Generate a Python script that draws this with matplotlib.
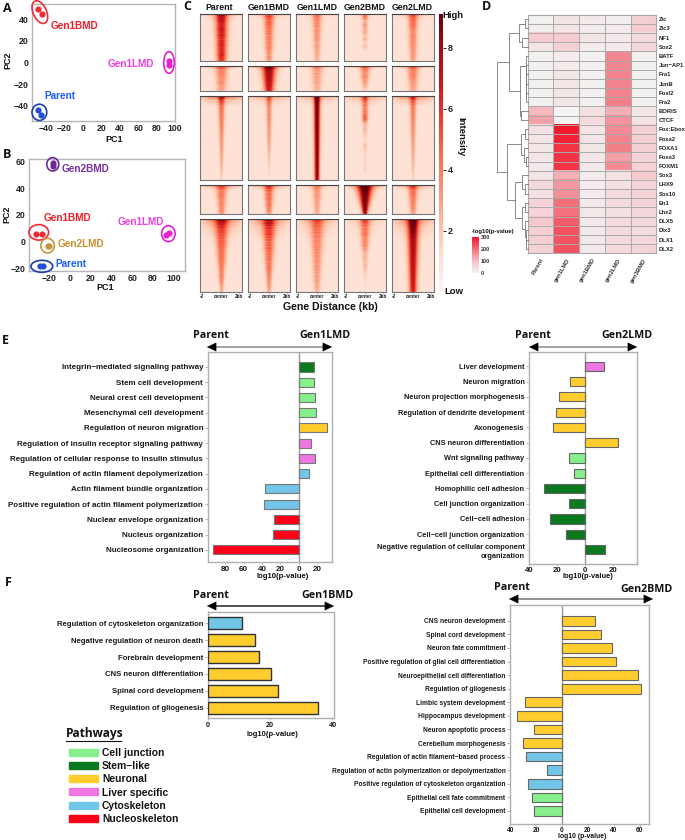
import numpy as np
import matplotlib
matplotlib.use("Agg")
import matplotlib.pyplot as plt
from matplotlib.patches import Ellipse, Patch
from matplotlib.colors import LinearSegmentedColormap

W, H = 685, 840
plt.rcParams['font.family'] = ['Liberation Sans', 'DejaVu Sans']
plt.rcParams['font.weight'] = 'bold'
plt.rcParams['axes.labelweight'] = 'bold'

# ---------- pathway colours ----------
C_JUNC, C_STEM, C_NEUR, C_LIVER, C_CYTO, C_NUC = '#86ee8a', '#0b7a1e', '#ffcd2e', '#ee76e0', '#72c6e8', '#ff0018'
PATHWAYS = ['Cell junction', 'Stem\u2212like', 'Neuronal', 'Liver specific', 'Cytoskeleton', 'Nucleoskeleton']
PATHWAY_COLORS = [C_JUNC, C_STEM, C_NEUR, C_LIVER, C_CYTO, C_NUC]

# ---------- PCA ----------
A_PARENT = ([-48, -45.5], [-44, -48])
A_G1B = ([-49, -44], [49, 45])
A_G1L = ([93, 94], [1, -2])
B_PARENT = ([-29, -25.5], [-18.5, -18.5])
B_G1B = ([-33, -27], [6, 6])
B_G1L = ([93, 96], [5, 6.5])
B_G2B = ([-16.5, -16.5], [59, 57])
B_G2L = ([-21.5, -20], [-3, -3])

# ---------- ATAC heat blocks: centre intensity sampled top to bottom ----------
COLUMNS_C = ['Parent', 'Gen1BMD', 'Gen1LMD', 'Gen2BMD', 'Gen2LMD']
PEAKS = [
 [[6.5,6,6.2,5.5,6,5.6,5.8,5.2,5.6,5.5,5.2,5.6,5.3,5],
  [4.5,4,3.6,3.8,3.2,3.4,3,3.2,2.8,3,2.8,2.4,2.6,2],
  [3.2,3,2.6,2.8,2.4,2.5,2.2,2.4,2,2.2,2,1.8,1.6,1.4],
  [3.5,3,1.2,2.4,1.6,2,1,1.5,.6,1.4,.3,.1,0,0],
  [4.2,3.6,3.4,3.5,3,2.6,3,2.6,2.7,2.4,2.4,2.2,2.4,1.8]],
 [[3.5,3.2,2.8,3,2.6,2.4,2.6,2.2,2,1.8],
  [8,7.5,7,7,6.8,6.6,6.4,6.4,6,6],
  [2.6,2.4,2,2.2,2,1.8,2,1.6,1.6,1.4],
  [4,3.2,2.6,2.4,2.8,2,2.2,1.6,1.2,.6],
  [3.6,3.2,2.8,3,2.8,2.4,2.4,2.2,2,1.8]],
 [[5,3.8,3.4,3.2,3.1,3,2.8,2.6,2.4,2.4,2.2,2,1.8,1.5,1.2,.8],
  [3.6,3,2.8,2.6,2.8,2.6,2.3,2.4,2.2,2,1.6,1.2,1,.6,.4,.1],
  [8.6,8.4,8.4,8.3,8.3,8.2,8.2,8.1,8.1,8,8,7.9,7.9,7.8,7.8,7.6],
  [4.5,3.2,3,3.4,4.2,1.4,1.4,.8,.4,1.4,.6,.6,.6,.8,.1,0],
  [3.8,3.4,3.2,3,2.8,2.8,2.6,2.4,2.3,2.2,2,1.8,1.6,1.4,1,.6]],
 [[4,3.4,3,3.2,3,2.8,3,2.6,2.8,2.2],
  [4.8,4,3.6,3.4,3.6,3,3.4,3,2.8,2.2],
  [2.8,2.6,2.2,2.4,2.2,2,2,1.8,1.8,1.4],
  [8.8,8.6,8.4,8.2,8,8,7.8,7.8,7.6,7.4],
  [4.5,3.8,3.4,3.4,3,3,2.8,2.8,2.4,2]],
 [[5.2,4.6,4.2,4,3.8,4,3.6,3.4,3.6,3.2,3.2,2.8,3,2.6,2.2,1.8],
  [5.4,4.8,4.2,4.4,4,3.8,3.8,3.4,3.4,3.2,3.4,3,2.8,2.6,2.4,1.8],
  [3.6,3.2,3,3,2.8,2.8,2.6,2.6,2.5,2.4,2.4,2.2,2.2,2,1.8,1.4],
  [4.6,3.4,3,3.2,2.6,2.8,2.4,1.4,1.6,1.2,1.4,.7,.6,.3,.3,.1],
  [8,7.6,7.4,7.2,7.1,7,6.8,6.7,6.6,6.5,6.4,6.3,6.2,6.1,6,5.8]],
]
PEAK_WIDTH = [
 [(.24,.18),(.2,.13),(.18,.12),(.12,.08),(.19,.13)],
 [(.24,.18),(.27,.18),(.22,.16),(.2,.1),(.22,.16)],
 [(.13,.04),(.11,.03),(.12,.09),(.13,.04),(.13,.04)],
 [(.22,.12),(.2,.11),(.18,.12),(.32,.09),(.2,.11)],
 [(.28,.06),(.27,.07),(.27,.11),(.2,.04),(.22,.14)],
]
TOP_BAND = [[1.6,1.4,.8,.2,1.4],[3.4,4.5,1.6,3,3],[4.5,2.6,2.6,2.6,4],[3,3,1.4,2.6,3],[3,2.8,1.8,1,3]]
BAND_DEPTH = [.06, .05, .05, .08, .12]
PROFILE_X = [0, .5, 1, 1.3, 1.7, 2.2, 3]
PROFILE_Y = [1, .9, .5, .3, .12, .04, 0]
FLANK_X = [0, .55, .8, 1]
FLANK_Y = [1, .85, .55, .35]
BASE_LEVEL = 1.0
# eye-estimated row-to-row streakiness of the read pile-ups
STREAK = [1, .9, 1.05, .8, 1, .72, 1.08, .95, .65, 1, 1.1, .82, .95, .6, 1.05, .9, 1, .75, 1.1, .88, .7, 1, .94, 1.06, .78, 1, .86, 1.04, .68, .96]
STREAK_AMOUNT = [.35, .8, .8, .9, .35]   # mostly visible in non-dominant tracks

# ---------- motif heatmap ----------
MOTIFS = ['Zic','Zic3','NF1','Sox2','BATF','Jun\u2212AP1','Fra1','JunB','Fosl2','Fra2','BORIS','CTCF','Fox:Ebox',
          'Foxa2','FOXA1','Foxa3','FOXM1','Sox3','LHX9','Sox10','En1','Lhx2','DLX5','Dlx3','DLX1','DLX2']
SAMPLES = ['Parent','gen1LMD','gen1BMD','gen2LMD','gen3BMD']
MOTIF_P = [[5,30,15,10,70],[10,30,15,15,75],[80,75,25,20,50],[30,70,15,20,55],[5,15,5,170,5],[5,15,5,170,5],
           [5,25,5,175,5],[5,25,5,175,5],[5,25,5,175,5],[5,25,5,180,5],[110,0,40,120,25],[140,0,50,155,30],
           [40,295,30,165,70],[30,285,30,175,70],[25,265,25,180,70],[30,265,25,140,60],[20,265,20,165,65],
           [30,120,15,35,85],[50,150,15,40,60],[35,160,15,45,65],[65,200,20,45,60],[60,195,20,40,55],
           [85,220,20,45,55],[70,230,20,45,45],[70,230,20,45,55],[65,230,20,50,60]]
DEND = (1.0,
        (.6, (.285, (.09, 0, 1), (.18, 2, 3)),
             (.25, (.07, 4, (.06, 5, (.05, (.04, 6, 7), (.04, 8, 9)))), (.22, 10, 11))),
        (.69, (.23, (.1, 12, 13), (.13, 14, (.07, 15, 16))),
              (.42, (.2, 17, (.1, 18, 19)),
                    (.2, (.08, 20, 21), (.1, 22, (.07, 23, (.05, 24, 25)))))))

# ---------- enrichment bars ----------
E1_TERMS = ['Integrin\u2212mediated signaling pathway','Stem cell development','Neural crest cell development',
            'Mesenchymal cell development','Regulation of neuron migration','Regulation of insulin receptor signaling pathway',
            'Regulation of cellular response to insulin stimulus','Regulation of actin filament depolymerization',
            'Actin filament bundle organization','Positive regulation of actin filament polymerization',
            'Nuclear envelope organization','Nucleus organization','Nucleosome organization']
E1_VALS = [17, 17, 18, 19.5, 30.5, 14, 17.5, 11, -37, -38, -27, -28, -94]
E1_COLS = [C_STEM, C_JUNC, C_JUNC, C_JUNC, C_NEUR, C_LIVER, C_LIVER, C_CYTO, C_CYTO, C_CYTO, C_NUC, C_NUC, C_NUC]
E2_TERMS = ['Liver development','Neuron migration','Neuron projection morphogenesis','Regulation of dendrite development',
            'Axonogenesis','CNS neuron differentiation','Wnt signaling pathway','Epithelial cell differentiation',
            'Homophilic cell adhesion','Cell junction organization','Cell\u2212cell adhesion','Cell\u2212cell junction organization',
            'Negative regulation of cellular component\norganization']
E2_VALS = [13.5, -11, -18.5, -21, -23, 23, -12, -8, -29.5, -11.5, -25.5, -14, 14]
E2_COLS = [C_LIVER] + [C_NEUR]*5 + [C_JUNC]*2 + [C_STEM]*5
F1_TERMS = ['Regulation of cytoskeleton organization','Negative regulation of neuron death','Forebrain development',
            'CNS neuron differentiation','Spinal cord development','Regulation of gliogenesis']
F1_VALS = [11, 15, 16.3, 20.3, 22.5, 35.5]
F1_COLS = [C_CYTO] + [C_NEUR]*5
F2_TERMS = ['CNS neuron development','Spinal cord development','Neuron fate commitment',
            'Positive regulation of glial cell differentiation','Neuroepithelial cell differentiation','Regulation of gliogenesis',
            'Limbic system development','Hippocampus development','Neuron apoptotic process','Cerebellum morphogenesis',
            'Regulation of actin filament\u2212based process','Regulation of actin polymerization or depolymerization',
            'Positive regulation of cytoskeleton organization','Epithelial cell fate commitment','Epithelial cell development']
F2_VALS = [25.5, 30, 39, 41.5, 58.5, 61, -28.5, -35, -21.5, -30, -28, -12, -26, -23.5, -21.5]
F2_COLS = [C_NEUR]*10 + [C_CYTO]*3 + [C_JUNC]*2

fig = plt.figure(figsize=(W/100, H/100), dpi=100, facecolor='white')

def axpx(l, t, r, b, **kw):
    return fig.add_axes([l/W, 1-b/H, (r-l)/W, (b-t)/H], **kw)

ov = fig.add_axes([0, 0, 1, 1], zorder=20)
ov.set_xlim(0, W); ov.set_ylim(H, 0); ov.axis('off'); ov.patch.set_alpha(0)

def tx(x, y, s, size=6, color='#111111', ha='center', va='center', family=None, **kw):
    d = dict(fontsize=size, color=color, ha=ha, va=va, fontweight=kw.pop('weight', 'bold'))
    if family: d['family'] = family
    d.update(kw)
    ov.text(x, y, s, **d)

for s, x, y in [('A',7,8),('B',7,155),('C',187,7),('D',487,6.5),('E',5,340),('F',8,582)]:
    tx(x, y, s, size=9, family='Open Sans')

# ---------- PCA panels ----------
def pca(rect, xlim, ylim, xt, yt, groups, ell, xl, yl):
    ax = axpx(*rect)
    ax.set_xlim(*xlim); ax.set_ylim(*ylim)
    ax.set_xticks(xt); ax.set_yticks(yt)
    ax.tick_params(labelsize=6.3, length=0, pad=2.5, colors='#222222')
    for s in ax.spines.values():
        s.set_color('#b5b5b5'); s.set_linewidth(1)
    for (px, py), c in groups:
        ax.scatter(px, py, s=20, color=c, linewidths=0, zorder=3)
    for (cx, cy, w, h, ang, c) in ell:
        ax.add_patch(Ellipse((cx, cy), w, h, angle=ang, fill=False, ec=c, lw=1.2, zorder=4, clip_on=False))
    tx(xl[0], xl[1], 'PC1', size=6.5)
    tx(yl[0], yl[1], 'PC2', size=6.5, rotation=90)
    return ax

RED, MAG, BLUE, PUR, GOLD = '#f02a35', '#e81fd0', '#1f4fd8', '#6d2a96', '#c8963a'
pca((32, 4, 175, 121), (-55, 99), (-54, 54), range(-40, 101, 20), range(-40, 41, 20),
    [(A_G1B, RED), (A_G1L, MAG), (A_PARENT, BLUE)],
    [(-46.5, 46.5, 14, 23, 32, RED), (93.5, 0, 11.5, 20, 0, MAG), (-47, -46, 16, 15, 0, '#1a3fa8')],
    (114, 139), (8, 60))
tx(74, 26, 'Gen1BMD', size=7.2, color='#f01c28')
tx(131, 64, 'Gen1LMD', size=7.2, color='#f23de0')
tx(60, 96, 'Parent', size=7.2, color='#1a5cff')

pca((29, 159, 185, 271), (-39.4, 111), (-22, 62), range(-20, 101, 20), range(-20, 61, 20),
    [(B_G2B, PUR), (B_G1B, RED), (B_G2L, GOLD), (B_PARENT, BLUE), (B_G1L, MAG)],
    [(-16.5, 58, 11.6, 10, 0, PUR), (-30, 7, 19, 11.6, 0, RED), (-21.5, -3, 13, 11, 0, GOLD),
     (-27, -18.5, 21, 9, 0, '#1a3fa8'), (95, 6, 13, 12, 0, MAG)],
    (105, 287), (7, 214))
tx(86, 169, 'Gen2BMD', size=7.2, color='#7a2ea8')
tx(67, 218, 'Gen1BMD', size=7.2, color='#f01c28')
tx(141, 222, 'Gen1LMD', size=7.2, color='#f23de0')
tx(81, 244, 'Gen2LMD', size=7.2, color='#c8912e')
tx(71, 264, 'Parent', size=7.2, color='#1a5cff')

# ---------- C: signal heatmaps ----------
COLS_PX = [(200,242),(248,290),(296,338),(344,386),(392,434)]
ROWS_PX = [(14,61),(66,91),(96,180),(185,214),(219,292)]
for x0, name in zip([219,269,317,365,412], COLUMNS_C):
    tx(x0, 8, name, size=6.3)
VMAX = 9.1
STREAK_A = np.array(STREAK)
for i, (t, b) in enumerate(ROWS_PX):
    n = (b-t)*3
    r = np.linspace(0, 1, n)
    x = np.linspace(-1, 1, 126)
    for j, (l, rgt) in enumerate(COLS_PX):
        ax = axpx(l, t, rgt, b)
        pk = np.interp(r, np.linspace(0, 1, len(PEAKS[i][j])), PEAKS[i][j])
        idx = (np.arange(n)//2 + 7*i + 11*j) % len(STREAK_A)
        amt = STREAK_AMOUNT[j] if PEAKS[i][j][0] < 7.5 else .12
        st = 1 + amt*(STREAK_A[idx]-.9)
        pk = pk*st
        wd = np.interp(r, [0, 1], PEAK_WIDTH[i][j])*(1 + .5*(st-1))
        band = TOP_BAND[i][j]*np.interp(r/BAND_DEPTH[i], [0, .25, 1, 2.5], [1, .6, .25, 0])*st
        prof = np.interp(np.abs(x)[None, :]/wd[:, None], PROFILE_X, PROFILE_Y)
        flank = np.interp(np.abs(x), FLANK_X, FLANK_Y)
        img = BASE_LEVEL + pk[:, None]*prof + band[:, None]*flank[None, :]
        ax.imshow(img, cmap='Reds', vmin=0, vmax=VMAX, aspect='auto', extent=(-2.4, 2.4, 1, 0), interpolation='bilinear')
        ax.set_yticks([])
        for s in ax.spines.values():
            s.set_color('#777777'); s.set_linewidth(.8)
        ax.spines['top'].set_color('#444444')
        if i == len(ROWS_PX)-1:
            ax.set_xticks([-2.2, 0, 2.05], ['-2', 'center', '2kb'])
            ax.tick_params(axis='x', labelsize=3.4, length=1, width=.4, pad=.8, colors='#222222')
        else:
            ax.set_xticks([])
tx(330, 307, 'Gene Distance (kb)', size=7.6)

cb = axpx(439, 14, 443, 292)
cb.imshow(np.linspace(VMAX, 0, 256)[:, None], cmap='Reds', vmin=0, vmax=VMAX, aspect='auto', extent=(0, 1, 0, VMAX))
cb.set_xticks([])
cb.yaxis.tick_right()
cb.set_yticks([2, 4, 6, 8])
cb.tick_params(axis='y', labelsize=6.5, length=2, width=.7, pad=1.5, colors='#222222')
for s in cb.spines.values():
    s.set_visible(False)
tx(453, 16, 'High', size=6.8)
tx(454, 291, 'Low', size=6.8)
tx(461, 137, 'Intensity', size=6.8, rotation=270)

# ---------- D: motif heatmap ----------
mcmap = LinearSegmentedColormap.from_list('m', [(0, '#f3f3f3'), (1/3, '#f6c1c6'), (2/3, '#f36f7a'), (1, '#f5142a')])
ax = axpx(527.7, 14.7, 656.3, 253.3)
M = np.array(MOTIF_P, float)
ax.imshow(M, cmap=mcmap, vmin=0, vmax=300, aspect='auto', extent=(0, 5, 26, 0), interpolation='nearest')
ax.hlines(np.arange(1, 26), 0, 5, color='#aaaaaa', lw=.7)
ax.vlines(np.arange(1, 5), 0, 26, color='#aaaaaa', lw=.7)
ax.set_xlim(0, 5); ax.set_ylim(26, 0)
ax.set_xticks(np.arange(5)+.5, SAMPLES, rotation=60, ha='right', rotation_mode='anchor')
ax.set_yticks(np.arange(26)+.5, MOTIFS)
ax.yaxis.tick_right()
ax.tick_params(axis='y', length=0, labelsize=4.2, pad=1.8, colors='#222222')
ax.tick_params(axis='x', length=0, labelsize=4.2, pad=3, colors='#333333')
for s in ax.spines.values():
    s.set_color('#aaaaaa'); s.set_linewidth(.8)

dax = axpx(497.3, 14.7, 527.7, 253.3)
dax.set_xlim(1, 0); dax.set_ylim(26, 0); dax.axis('off')
def dend(n):
    if isinstance(n, int):
        return n+.5, 0
    h, a, b = n
    ya, ha = dend(a); yb, hb = dend(b)
    dax.plot([ha, h, h, hb], [ya, ya, yb, yb], color='#777777', lw=.6, clip_on=False, solid_joinstyle='miter')
    return (ya+yb)/2, h
dend(DEND)

tx(472, 231, '-log10(p-value)', size=4.3, ha='left')
lg = axpx(472, 237, 479, 273)
lg.imshow(np.linspace(300, 0, 256)[:, None], cmap=mcmap, vmin=0, vmax=300, aspect='auto', extent=(0, 1, 0, 300))
lg.set_xticks([]); lg.yaxis.tick_right(); lg.set_yticks([0, 100, 200, 300])
lg.tick_params(axis='y', length=0, labelsize=4, pad=1.5, colors='#333333')
for s in lg.spines.values():
    s.set_visible(False)

# ---------- enrichment bars ----------
def bars(rect, xlim, ylim, terms, vals, cols, xt, xtl, h, edge, elw, lab, xl_y, xl_txt,
         lsize, tsize, xlsize, pad=1.5, spine='#b0b0b0'):
    ax = axpx(*rect)
    y = np.arange(len(terms))
    ax.barh(y, vals, height=h, color=cols, edgecolor=edge, linewidth=elw, zorder=3)
    ax.set_xlim(*xlim); ax.set_ylim(*ylim)
    ax.set_yticks(y, terms, linespacing=1.5)
    ax.set_xticks(xt, xtl)
    ax.tick_params(axis='y', labelsize=lsize, length=2, width=.5, pad=1.5, color='#999999', labelcolor='#1a1a1a')
    ax.tick_params(axis='x', labelsize=tsize, length=1.5, width=.5, pad=pad, color='#999999', labelcolor='#1a1a1a')
    ax.axvline(0, color='#999999', lw=1, zorder=2)
    for s in ax.spines.values():
        s.set_color(spine); s.set_linewidth(1)
    tx(lab, xl_y, xl_txt, size=xlsize)
    return ax

bars((208, 352, 332, 562), (-99, 36.5), (12.8, -.98), E1_TERMS, E1_VALS, E1_COLS,
     [-80, -60, -40, -20, 0, 20], [80, 60, 40, 20, 0, 20], .6, '#777777', .8, 283, 577, 'log10(p-value)', 5.75, 5.8, 5.6)
bars((529.3, 352, 636.7, 564), (-40, 36.7), (12.95, -.94), E2_TERMS, E2_VALS, E2_COLS,
     [-40, -20, 0, 20], [40, 20, 0, 20], .6, '#666666', .8, 588, 577, 'log10(p-value)', 5.35, 5.6, 5.4, pad=.5)
bars((208, 612.3, 333.7, 718.3), (0, 40.4), (5.63, -.65), F1_TERMS, F1_VALS, F1_COLS,
     [0, 20, 40], [0, 20, 40], .7, '#333333', 1, 272, 735, 'log10(p-value)', 5.6, 5.2, 5.5)
bars((510.3, 604.7, 649.3, 824.3), (-39.7, 67.5), (14.98, -1.18), F2_TERMS, F2_VALS, F2_COLS,
     [-40, -20, 0, 20, 40, 60], [40, 20, 0, 20, 40, 60], .71, '#666666', .8, 581.7, 836.5, 'log10 (p-value)', 4.75, 4.8, 4.9, pad=.5)

def arrow(x0, x1, y, color):
    ov.plot([x0+4, x1-4], [y, y], color=color, lw=1.1, solid_capstyle='butt')
    for xa, xb in [(x0+7.5, x0), (x1-7.5, x1)]:
        ov.annotate('', xy=(xb, y), xytext=(xa, y),
                    arrowprops=dict(arrowstyle='-|>,head_length=.62,head_width=.3', fc='black', ec='black', lw=.3,
                                    shrinkA=0, shrinkB=0))

HEAD = dict(size=7.7, family='Open Sans', color='#111111')
arrow(207, 332, 347, '#8a8a8a'); tx(211, 335, 'Parent', **HEAD); tx(325, 336, 'Gen1LMD', **HEAD)
arrow(529, 637, 347, '#8a8a8a'); tx(533, 336, 'Parent', **HEAD); tx(627, 336, 'Gen2LMD', **HEAD)
arrow(207, 334, 606, '#222222'); tx(211, 595, 'Parent', **HEAD); tx(328, 596, 'Gen1BMD', **HEAD)
arrow(509, 653, 599, '#777777'); tx(512, 588, 'Parent', **HEAD); tx(647, 589, 'Gen2BMD', **HEAD)

# ---------- pathways legend ----------
tx(66, 734, 'Pathways', size=8.6, ha='left', family='Open Sans')
ov.plot([66, 121], [740.5, 740.5], color='#111111', lw=.8)
fig.legend(handles=[Patch(color=c) for c in PATHWAY_COLORS], labels=PATHWAYS, loc='upper left',
           bbox_to_anchor=(69/W, 1-748/H), frameon=False, fontsize=7.4, handlelength=2.8, handleheight=.68,
           handletextpad=.4, labelspacing=.31, borderpad=0, borderaxespad=0, labelcolor='#111111')

fig.savefig('out.png', dpi=100)
